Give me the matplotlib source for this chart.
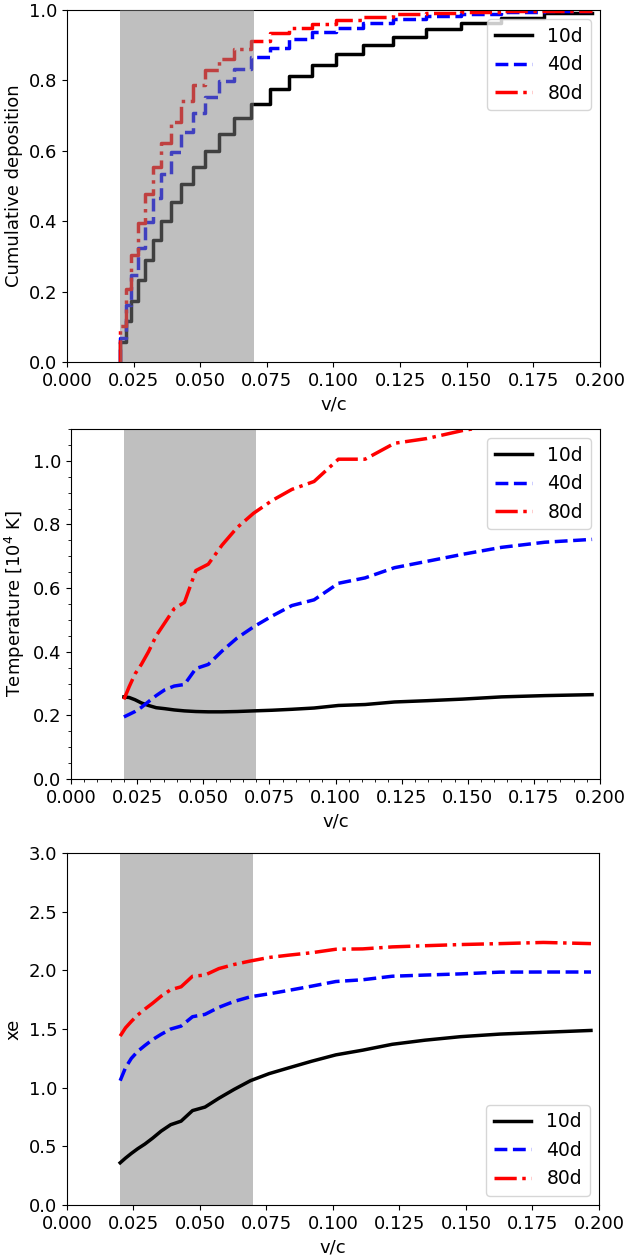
import matplotlib
matplotlib.use("Agg")
import matplotlib.pyplot as plt

# velocity grid (v/c), shared by all three panels
vel = [0.0200, 0.0220, 0.0242, 0.0266, 0.0293, 0.0322, 0.0354, 0.0390, 0.0429,
       0.0472, 0.0519, 0.0571, 0.0628, 0.0690, 0.0760, 0.0835, 0.0919, 0.1011,
       0.1112, 0.1223, 0.1346, 0.1480, 0.1628, 0.1791, 0.1970]

labels = ["10d", "40d", "80d"]

# cumulative deposition (step levels, first point is the floor at v=0.02)
dep_10d = [0.0, 0.056, 0.115, 0.173, 0.233, 0.290, 0.347, 0.401, 0.454, 0.505,
           0.555, 0.600, 0.648, 0.692, 0.734, 0.776, 0.811, 0.843, 0.875,
           0.901, 0.922, 0.945, 0.962, 0.976, 0.991]
dep_40d = [0.0, 0.067, 0.161, 0.246, 0.325, 0.398, 0.465, 0.534, 0.597, 0.654,
           0.706, 0.754, 0.798, 0.832, 0.865, 0.893, 0.917, 0.936, 0.950,
           0.962, 0.974, 0.983, 0.989, 0.993, 0.997]
dep_80d = [0.0, 0.102, 0.206, 0.304, 0.394, 0.476, 0.555, 0.621, 0.683, 0.740,
           0.787, 0.828, 0.860, 0.888, 0.913, 0.934, 0.948, 0.960, 0.972,
           0.981, 0.987, 0.992, 0.995, 0.997, 0.998]

# temperature [1e4 K]
temp_10d = [0.258, 0.256, 0.249, 0.239, 0.231, 0.224, 0.221, 0.217, 0.214, 0.212,
            0.211, 0.211, 0.212, 0.214, 0.216, 0.219, 0.223, 0.231, 0.234, 0.242,
            0.246, 0.251, 0.258, 0.262, 0.265]
temp_40d = [0.195, 0.203, 0.212, 0.225, 0.243, 0.262, 0.280, 0.292, 0.297, 0.347,
            0.360, 0.402, 0.443, 0.478, 0.512, 0.545, 0.563, 0.615, 0.632, 0.664,
            0.684, 0.706, 0.728, 0.744, 0.753]
temp_80d = [0.250, 0.290, 0.330, 0.360, 0.400, 0.450, 0.490, 0.535, 0.555, 0.655,
            0.675, 0.735, 0.790, 0.835, 0.875, 0.910, 0.935, 1.005, 1.005, 1.055,
            1.070, 1.095, 1.115, 1.140, 1.160]

# electron fraction xe
xe_10d = [0.36, 0.40, 0.44, 0.48, 0.52, 0.57, 0.63, 0.685, 0.715, 0.805, 0.835,
          0.91, 0.985, 1.06, 1.12, 1.17, 1.225, 1.28, 1.32, 1.37, 1.405, 1.435,
          1.457, 1.472, 1.488]
xe_40d = [1.06, 1.17, 1.25, 1.31, 1.36, 1.41, 1.455, 1.50, 1.525, 1.605, 1.625,
          1.685, 1.735, 1.775, 1.80, 1.83, 1.865, 1.905, 1.92, 1.95, 1.96, 1.97,
          1.985, 1.986, 1.986]
xe_80d = [1.44, 1.51, 1.565, 1.62, 1.67, 1.72, 1.78, 1.835, 1.86, 1.95, 1.96,
          2.015, 2.05, 2.08, 2.11, 2.13, 2.15, 2.18, 2.183, 2.20, 2.21, 2.22,
          2.228, 2.238, 2.228]

shade_lo, shade_hi = 0.02, 0.07

plt.rcParams['font.size'] = 13
plt.rcParams['legend.fontsize'] = 13.5
styles = [("k", "-"), ("b", "--"), ("r", "-.")]
lw = 2.5

fig = plt.figure(figsize=(6.3, 12.55), dpi=100)

# ---- top: cumulative deposition
ax1 = fig.add_axes([0.1063, 0.7116, 0.8460, 0.2805])
for ys, lab, (c, ls) in zip([dep_10d, dep_40d, dep_80d], labels, styles):
    ax1.step(vel, ys, where="pre", color=c, ls=ls, lw=lw, label=lab)
ax1.axvspan(shade_lo, shade_hi, color="gray", alpha=0.5, lw=0, zorder=3)
ax1.set_xlim(0, 0.2)
ax1.set_ylim(0, 1)
ax1.set_xlabel("v/c")
ax1.set_ylabel("Cumulative deposition")
ax1.legend(loc="upper right")

# ---- middle: temperature
ax2 = fig.add_axes([0.1127, 0.3793, 0.8397, 0.2789])
ax2.axvspan(shade_lo, shade_hi, color="gray", alpha=0.5, lw=0)
for ys, lab, (c, ls) in zip([temp_10d, temp_40d, temp_80d], labels, styles):
    ax2.plot(vel, ys, color=c, ls=ls, lw=lw, label=lab)
ax2.set_xlim(0, 0.2)
ax2.set_ylim(0, 1.1)
ax2.minorticks_on()
ax2.set_xlabel("v/c")
ax2.set_ylabel("Temperature [10$^4$ K]")
ax2.legend(loc="upper right")

# ---- bottom: xe
ax3 = fig.add_axes([0.1063, 0.0398, 0.8444, 0.2805])
ax3.axvspan(shade_lo, shade_hi, color="gray", alpha=0.5, lw=0)
for ys, lab, (c, ls) in zip([xe_10d, xe_40d, xe_80d], labels, styles):
    ax3.plot(vel, ys, color=c, ls=ls, lw=lw, label=lab)
ax3.set_xlim(0, 0.2)
ax3.set_ylim(0, 3)
ax3.set_xlabel("v/c")
ax3.set_ylabel("xe")
ax3.legend(loc="lower right")

fig.savefig("out.png", dpi=100)
